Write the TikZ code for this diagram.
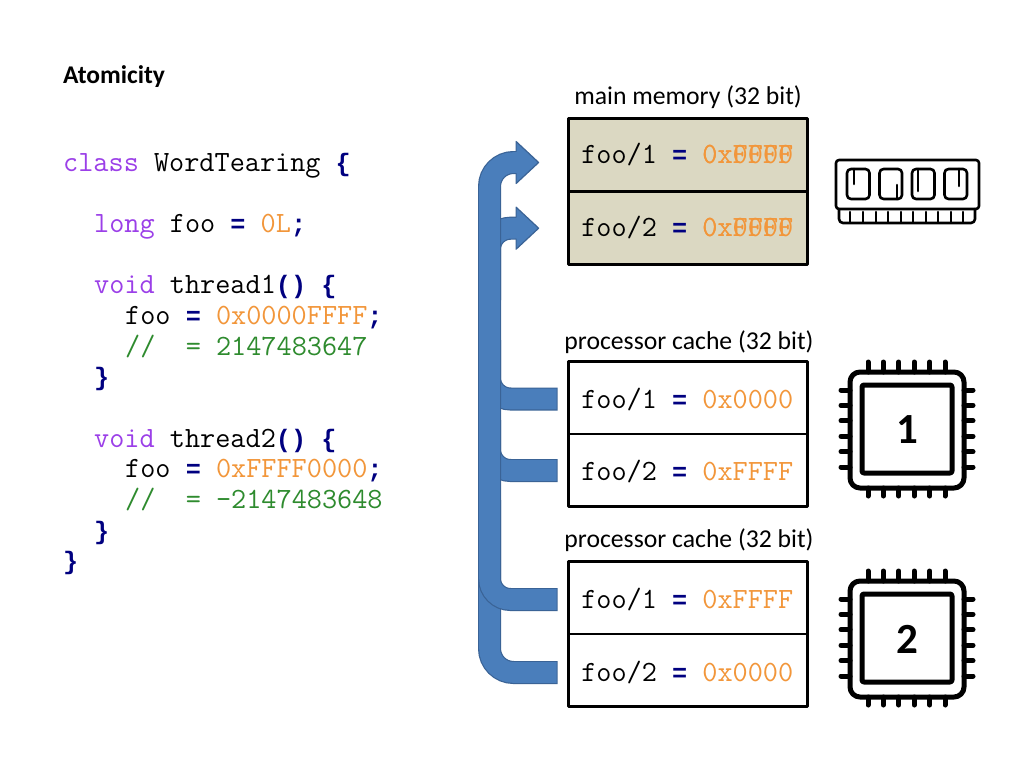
\documentclass[tikz,border=0pt]{standalone}
\usepackage{fontspec}
\setmainfont{Carlito}
\newfontfamily\opfont{Liberation Mono}
\usetikzlibrary{calc}
\definecolor{kwc}{HTML}{9B3FE8}
\definecolor{numc}{HTML}{F2963A}
\definecolor{cmtc}{HTML}{2E8B2E}
\definecolor{opc}{HTML}{000080}
\definecolor{memc}{HTML}{DBD8C2}
\definecolor{bandc}{HTML}{4A7EBB}
\definecolor{bandl}{HTML}{3A6396}
\newcommand{\kw}[1]{\textcolor{kwc}{#1}}
\newcommand{\nm}[1]{\textcolor{numc}{#1}}
\newcommand{\cm}[1]{\textcolor{cmtc}{#1}}
\newcommand{\op}[1]{\textcolor{opc}{\opfont\bfseries\fontsize{25.2}{30}\selectfont #1}}
\newcommand{\blueband}[2][21]{%
  \draw[bandedge,rounded corners=#1pt] #2;
  \draw[bandcore,rounded corners=#1pt,shorten <=1pt] #2;}
\tikzset{
  x=1pt,y=-1pt,
  cell/.style={draw=black,line width=2.8pt,minimum width=239pt,minimum height=72.8pt,inner sep=0pt,line join=round},
  codeline/.style={anchor=base west,inner sep=0pt,font=\ttfamily\fontsize{29.4}{32}\selectfont,text=black},
  celltext/.style={codeline},
  caption/.style={inner sep=0pt,font=\fontsize{25.7}{30}\selectfont,text=black},
  bandedge/.style={draw=bandl,line width=23pt},
  bandcore/.style={draw=bandc,line width=20.6pt},
  bandhead/.style={draw=bandl,fill=bandc,line width=1.2pt,line join=round},
  chipline/.style={draw=black,line width=5pt,line cap=round,line join=round},
  ramline/.style={draw=black,line width=2.6pt,line cap=round,line join=round},
  chipnum/.style={inner sep=0pt,font=\bfseries\fontsize{43}{47}\selectfont,text=black}
}
\begin{document}
\begin{tikzpicture}
\useasboundingbox[fill=white] (0,0) rectangle (1024,768);
% headings
\node[anchor=base west,inner sep=0pt,font=\bfseries\fontsize{25.5}{30}\selectfont] (title) at (63,83) {Atomicity};
% code
\node[codeline] (l1) at (63,171) {\kw{class} WordTearing \op{\{}};
\node[codeline] (l2) at (94,232.2) {\kw{long} foo \op{=} \nm{0L}\op{;}};
\node[codeline] (l3) at (94,293.6) {\kw{void} thread1\op{()} \op{\{}};
\node[codeline] (l4) at (125,324.3) {foo \op{=} \nm{0x0000FFFF}\op{;}};
\node[codeline] (l5) at (125,355) {\cm{//~~=~2147483647}};
\node[codeline] (l6) at (94,385.7) {\op{\}}};
\node[codeline] (l7) at (94,447.1) {\kw{void} thread2\op{()} \op{\{}};
\node[codeline] (l8) at (125,477.8) {foo \op{=} \nm{0xFFFF0000}\op{;}};
\node[codeline] (l9) at (125,508.5) {\cm{//~~=~-2147483648}};
\node[codeline] (l10) at (94,539.2) {\op{\}}};
\node[codeline] (l11) at (63,569.9) {\op{\}}};
% captions
\node[caption] (capm) at (688,97) {main memory (32 bit)};
\node[caption] (capa) at (689,342) {processor cache (32 bit)};
\node[caption] (capb) at (689,540) {processor cache (32 bit)};
% cells
\node[cell,fill=memc] (m1) at (688,155) {};
\node[cell,fill=memc] (m2) at (688,227.7) {};
\node[cell] (a1) at (688,397.5) {};
\node[cell] (a2) at (688,470.3) {};
\node[cell] (b1) at (688,597.5) {};
\node[cell] (b2) at (688,670.3) {};
% cell text
\node[celltext] (m1t) at ([shift={(14,8.5)}]m1.west) {foo/1 \op{=} \nm{0xFFFF}};
\node[celltext] (m1o) at (m1t.base west) {\phantom{foo/1 = }\nm{0x0000}};
\node[celltext] (m2t) at ([shift={(14,8.7)}]m2.west) {foo/2 \op{=} \nm{0x0000}};
\node[celltext] (m2o) at (m2t.base west) {\phantom{foo/2 = }\nm{0xFFFF}};
\node[celltext] (a1t) at ([shift={(14,11)}]a1.west) {foo/1 \op{=} \nm{0x0000}};
\node[celltext] (a2t) at ([shift={(14,9.7)}]a2.west) {foo/2 \op{=} \nm{0xFFFF}};
\node[celltext] (b1t) at ([shift={(14,11)}]b1.west) {foo/1 \op{=} \nm{0xFFFF}};
\node[celltext] (b2t) at ([shift={(14,10.7)}]b2.west) {foo/2 \op{=} \nm{0x0000}};
% blue arrows
\coordinate (spine) at (489.5,400);
\coordinate (h1) at ([shift={(-51,7.5)}]m1.west);
\coordinate (h2) at ([shift={(-51,0.5)}]m2.west);
\coordinate (sa1) at ([shift={(-9.5,1.5)}]a1.west);
\coordinate (sa2) at ([shift={(-9.5,0.2)}]a2.west);
\coordinate (sb1) at ([shift={(-9.5,2)}]b1.west);
\coordinate (sb2) at ([shift={(-9.5,2.2)}]b2.west);
\coordinate (e2) at (489.5,300);
\coordinate (ea1) at (489.5,340);
\coordinate (ea2) at (489.5,420);
\coordinate (eb1) at (489.5,500);
\blueband{(e2) -- (spine |- h2) -- (h2)}
\blueband{(sa1) -- (spine |- sa1) -- (ea1)}
\blueband{(sa2) -- (spine |- sa2) -- (ea2)}
\blueband[24]{(sb2) -- (spine |- sb2) -- (spine |- h1) -- (h1)}
\blueband{(sb1) -- (spine |- sb1) -- (eb1)}
\draw[bandhead] ([shift={(0,-10.5)}]h1) -- ++(0,-10.5) -- ++(22.5,21) -- ++(-22.5,21) -- ++(0,-10.5);
\draw[bandhead] ([shift={(0,-10.5)}]h2) -- ++(0,-10.5) -- ++(22.5,21) -- ++(-22.5,21) -- ++(0,-10.5);
\fill[bandc] ([shift={(-3,-10.2)}]h1) rectangle ([shift={(3,10.2)}]h1);
\fill[bandc] ([shift={(-3,-10.2)}]h2) rectangle ([shift={(3,10.2)}]h2);
% RAM icon
\draw[ramline,rounded corners=3pt] (836,160) rectangle (979,209);
\draw[ramline,rounded corners=4pt] (839,209) -- (839,223) -- (975,223) -- (975,209);
\foreach \sx in {847,879.5,912,944.5}
  \draw[ramline,rounded corners=4pt] (\sx,169) rectangle ++(22.5,30);
\draw[ramline] (854,169) -- (854,184);
\draw[ramline] (897,185) -- (897,199);
\draw[ramline] (918,169) -- (918,191);
\draw[ramline] (959,169) -- (959,186);
\foreach \tx in {850,863,876,888,901,913,926,938,951,963}
  \draw[ramline] (\tx,212) -- (\tx,222);
% chips
\foreach \dy/\num/\nm in {0/1/chipa,209/2/chipb}{
  \begin{scope}[shift={(0,\dy)}]
    \draw[chipline,rounded corners=10pt] (850,372) rectangle (964,488);
    \draw[chipline,rounded corners=2pt] (862,385) rectangle (952,473);
    \foreach \p in {868,883.4,898.8,914.2,929.6,945}{
      \draw[chipline] (\p,362) -- (\p,372);
      \draw[chipline] (\p,488) -- (\p,496);
    }
    \foreach \p in {390,405.4,420.8,436.2,451.6,467}{
      \draw[chipline] (841,\p) -- (850,\p);
      \draw[chipline] (964,\p) -- (973,\p);
    }
    \node[chipnum] (\nm) at (907,430) {\num};
  \end{scope}
}
\end{tikzpicture}
\end{document}
